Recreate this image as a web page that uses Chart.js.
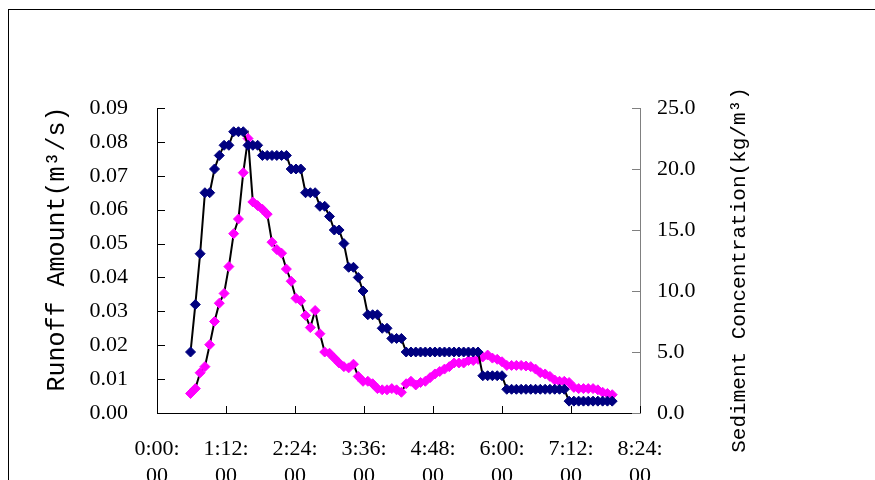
<!DOCTYPE html>
<html>
<head>
<meta charset="utf-8">
<script src="https://cdn.jsdelivr.net/npm/chart.js@4.4.0/dist/chart.umd.min.js"></script>
<style>
  html, body { margin: 0; padding: 0; background: #fff; overflow: hidden; }
  #frame { position: absolute; left: 8px; top: 9px; width: 1000px; height: 1000px; border: 1px solid #000; }
  #canvas { position: absolute; left: 0; top: 0; }
</style>
</head>
<body>
<div id="frame"></div>
<canvas id="canvas" width="875" height="480"></canvas>
<script>
// sampling times, minutes after 0:00
const times = [35, 40, 45, 50, 55, 60, 65, 70, 75, 80, 85, 90, 95, 100, 105, 110, 115, 120, 125, 130,
    135, 140, 145, 150, 155, 160, 165, 170, 175, 180, 185, 190, 195, 200, 205, 210, 215, 220, 225, 230,
    235, 240, 245, 250, 255, 260, 265, 270, 275, 280, 285, 290, 295, 300, 305, 310, 315, 320, 325, 330,
    335, 340, 345, 350, 355, 360, 365, 370, 375, 380, 385, 390, 395, 400, 405, 410, 415, 420, 425, 430,
    435, 440, 445, 450, 455, 460, 465, 470, 475];

// runoff amount, m3/s (left axis)
const runoff = [0.018, 0.032, 0.047, 0.065, 0.065, 0.072, 0.076, 0.079, 0.079, 0.083,
    0.083, 0.083, 0.079, 0.079, 0.079, 0.076, 0.076, 0.076, 0.076, 0.076,
    0.076, 0.072, 0.072, 0.072, 0.065, 0.065, 0.065, 0.061, 0.061, 0.058,
    0.054, 0.054, 0.050, 0.043, 0.043, 0.040, 0.036, 0.029, 0.029, 0.029,
    0.025, 0.025, 0.022, 0.022, 0.022, 0.018, 0.018, 0.018, 0.018, 0.018,
    0.018, 0.018, 0.018, 0.018, 0.018, 0.018, 0.018, 0.018, 0.018, 0.018,
    0.018, 0.011, 0.011, 0.011, 0.011, 0.011, 0.007, 0.007, 0.007, 0.007,
    0.007, 0.007, 0.007, 0.007, 0.007, 0.007, 0.007, 0.007, 0.007, 0.0035,
    0.0035, 0.0035, 0.0035, 0.0035, 0.0035, 0.0035, 0.0035, 0.0035, 0.0035];

// sediment concentration, kg/m3 (right axis)
const sediment = [1.6, 2.0, 3.3, 3.8, 5.6, 7.5, 9.0, 9.8, 12.0, 14.7,
    15.9, 19.7, 22.5, 17.3, 17.0, 16.7, 16.3, 14.0, 13.4, 13.1,
    11.8, 10.8, 9.4, 9.2, 8.0, 7.0, 8.4, 6.5, 5.0, 4.9,
    4.5, 4.1, 3.8, 3.7, 4.0, 3.0, 2.6, 2.6, 2.4, 2.0,
    1.9, 1.9, 2.0, 1.9, 1.7, 2.4, 2.6, 2.3, 2.5, 2.6,
    2.9, 3.2, 3.4, 3.6, 3.8, 4.1, 4.1, 4.1, 4.3, 4.3,
    4.4, 4.6, 4.75, 4.5, 4.4, 4.2, 3.9, 3.9, 3.9, 3.9,
    3.85, 3.8, 3.6, 3.3, 3.2, 3.0, 2.7, 2.6, 2.6, 2.5,
    2.1, 2.0, 2.0, 2.0, 2.0, 1.9, 1.7, 1.6, 1.5];

// x tick labels, two lines each
const timeTicks = [['0:00:', '00'], ['1:12:', '00'], ['2:24:', '00'], ['3:36:', '00'],
    ['4:48:', '00'], ['6:00:', '00'], ['7:12:', '00'], ['8:24:', '00']];

const leftTitle = 'Runoff Amount(m\u00B3/s)';
const rightTitle = 'Sediment Concentration(kg/m\u00B3)';

const tickFont = { family: "'Liberation Serif', serif", size: 22 };

// Excel style tick marks pointing into the plot
const insideTicks = {
    id: 'insideTicks',
    beforeDatasetsDraw(chart) {
        const { ctx, scales } = chart;
        ctx.save();
        ctx.lineWidth = 1;
        ctx.strokeStyle = '#000';
        ctx.beginPath();
        scales.y.ticks.forEach((t, i) => {
            const p = Math.round(scales.y.getPixelForTick(i)) + 0.5;
            ctx.moveTo(scales.y.right, p);
            ctx.lineTo(scales.y.right + 8, p);
        });
        scales.x.ticks.forEach((t, i) => {
            const p = Math.round(scales.x.getPixelForTick(i)) + 0.5;
            ctx.moveTo(p, scales.x.top);
            ctx.lineTo(p, scales.x.top - 7);
        });
        ctx.stroke();
        ctx.strokeStyle = '#808080';
        ctx.beginPath();
        scales.y2.ticks.forEach((t, i) => {
            const p = Math.round(scales.y2.getPixelForTick(i)) + 0.5;
            ctx.moveTo(scales.y2.left, p);
            ctx.lineTo(scales.y2.left - 8, p);
        });
        ctx.stroke();
        ctx.restore();
    }
};

// both axis titles read bottom to top
const axisTitles = {
    id: 'axisTitles',
    afterDraw(chart) {
        const ctx = chart.ctx;
        ctx.save();
        ctx.fillStyle = '#000';
        ctx.textAlign = 'center';
        ctx.textBaseline = 'middle';
        ctx.font = "25px 'Liberation Mono', monospace";
        ctx.translate(57, 249);
        ctx.rotate(-Math.PI / 2);
        ctx.fillText(leftTitle, 0, 0);
        ctx.restore();

        ctx.save();
        ctx.fillStyle = '#000';
        ctx.textAlign = 'center';
        ctx.textBaseline = 'middle';
        ctx.font = "21px 'Liberation Mono', monospace";
        ctx.translate(739, 270);
        ctx.rotate(-Math.PI / 2);
        ctx.fillText(rightTitle, 0, 0);
        ctx.restore();
    }
};

const ctx = document.getElementById('canvas').getContext('2d');
new Chart(ctx, {
    type: 'scatter',
    data: {
        datasets: [
            {
                label: 'Runoff Amount',
                data: times.map((t, i) => ({ x: t, y: runoff[i] })),
                yAxisID: 'y',
                showLine: true,
                borderColor: '#000',
                borderWidth: 2,
                pointStyle: 'rectRot',
                pointRadius: 5,
                pointBackgroundColor: '#000080',
                pointBorderColor: '#000080',
                pointBorderWidth: 1
            },
            {
                label: 'Sediment Concentration',
                data: times.map((t, i) => ({ x: t, y: sediment[i] })),
                yAxisID: 'y2',
                showLine: true,
                borderColor: '#000',
                borderWidth: 2,
                pointStyle: 'rectRot',
                pointRadius: 5,
                pointBackgroundColor: '#ff00ff',
                pointBorderColor: '#ff00ff',
                pointBorderWidth: 1
            }
        ]
    },
    options: {
        responsive: false,
        animation: false,
        devicePixelRatio: 1,
        layout: { padding: { top: 108, left: 0, right: 0, bottom: 0 } },
        plugins: { legend: { display: false }, tooltip: { enabled: false } },
        scales: {
            x: {
                type: 'linear',
                min: 0,
                max: 504,
                afterFit: (scale) => { scale.height = 67; },
                afterBuildTicks: (scale) => {
                    scale.ticks = timeTicks.map((l, i) => ({ value: i * 72 }));
                },
                ticks: {
                    autoSkip: false,
                    maxRotation: 0,
                    padding: 22,
                    color: '#000',
                    font: { ...tickFont, lineHeight: 1.25 },
                    callback: (v, i) => timeTicks[i]
                },
                grid: { display: true, drawOnChartArea: false, drawTicks: false },
                border: { display: true, color: '#000', width: 1 }
            },
            y: {
                position: 'left',
                min: 0,
                max: 0.09,
                afterFit: (scale) => { scale.width = 157; },
                ticks: {
                    stepSize: 0.01,
                    padding: 29,
                    color: '#000',
                    font: tickFont,
                    callback: (v) => v.toFixed(2)
                },
                grid: { display: true, drawOnChartArea: false, drawTicks: false },
                border: { display: true, color: '#000', width: 1 }
            },
            y2: {
                position: 'right',
                min: 0,
                max: 25,
                afterFit: (scale) => { scale.width = 235; },
                ticks: {
                    stepSize: 5,
                    padding: 17,
                    color: '#000',
                    font: tickFont,
                    callback: (v) => v.toFixed(1)
                },
                grid: { display: true, drawOnChartArea: false, drawTicks: false },
                border: { display: true, color: '#808080', width: 1 }
            }
        }
    },
    plugins: [insideTicks, axisTitles]
});
</script>
</body>
</html>
